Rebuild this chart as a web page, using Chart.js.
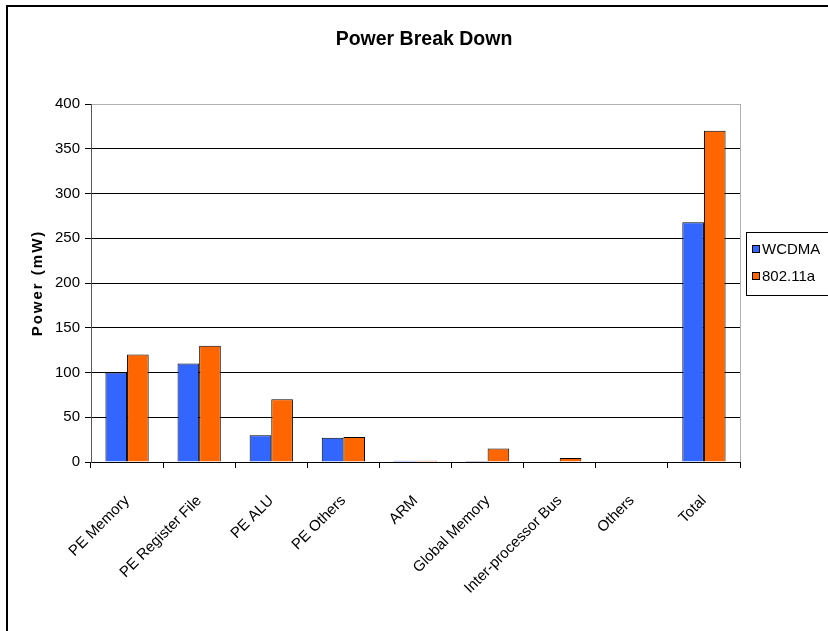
<!DOCTYPE html>
<html>
<head>
<meta charset="utf-8">
<script src="https://cdn.jsdelivr.net/npm/chart.js@4"></script>
<style>
  html, body { margin: 0; padding: 0; background: #fff; }
  #chart { display: block; }
</style>
</head>
<body>
<canvas id="chart" width="828" height="631"></canvas>
<script>
const ctx = document.querySelector("#chart");

const FONT = "'Liberation Sans', Arial, sans-serif";

const categories = ["PE Memory", "PE Register File", "PE ALU", "PE Others", "ARM",
    "Global Memory", "Inter-processor Bus", "Others", "Total"];
const wcdma = [100, 110, 30, 27, 1.5, 1, 0, 0, 268];
const wlan = [120, 130, 70, 28, 1.5, 15, 4.5, 0, 370];
const yTicks = [0, 50, 100, 150, 200, 250, 300, 350, 400];

// frame, title, axis title, plot border and legend
const decorations = {
    id: "decorations",
    afterDraw(chart) {
        const c = chart.ctx;
        const area = chart.chartArea;
        c.save();

        // outer frame (only top and left are visible)
        c.strokeStyle = "#000";
        c.lineWidth = 2;
        c.beginPath();
        c.moveTo(7, 640);
        c.lineTo(7, 6);
        c.lineTo(840, 6);
        c.stroke();

        // plot border, right side
        c.strokeStyle = "#b0b0b0";
        c.lineWidth = 1;
        c.beginPath();
        c.moveTo(area.right + 0.5, area.top);
        c.lineTo(area.right + 0.5, area.bottom);
        c.stroke();

        // title
        c.fillStyle = "#000";
        c.font = "bold 19.5px " + FONT;
        c.textAlign = "center";
        c.textBaseline = "middle";
        c.fillText("Power Break Down", 424, 40);

        // y axis title
        c.save();
        c.translate(38, (area.top + area.bottom) / 2);
        c.rotate(-Math.PI / 2);
        c.font = "bold 15px " + FONT;
        c.letterSpacing = "2px";
        c.fillText("Power (mW)", 0, 0);
        c.restore();

        // legend
        const lx = area.right + 6, ly = 232;
        c.strokeStyle = "#000";
        c.lineWidth = 1;
        c.strokeRect(lx + 0.5, ly + 0.5, 120, 63);
        c.font = "15px " + FONT;
        c.textAlign = "left";
        chart.data.datasets.forEach((ds, i) => {
            const y = ly + 17 + i * 27;
            c.fillStyle = ds.backgroundColor;
            c.fillRect(lx + 6, y - 4, 8, 8);
            c.strokeRect(lx + 6.5, y - 3.5, 7, 7);
            c.fillStyle = "#000";
            c.fillText(ds.label, lx + 16, y + 1);
        });
        c.restore();
    }
};

const data = {
    labels: categories,
    datasets: [
        {
            label: "WCDMA",
            data: wcdma,
            backgroundColor: "#3366ff",
            borderColor: "#000",
            borderWidth: 1,
        },
        {
            label: "802.11a",
            data: wlan,
            backgroundColor: "#ff6600",
            borderColor: "#000",
            borderWidth: 1,
        },
    ],
};

const config = {
    type: "bar",
    data: data,
    options: {
        responsive: false,
        animation: false,
        categoryPercentage: 0.6,
        barPercentage: 1.0,
        layout: {
            padding: { top: 104, right: 88, left: 0, bottom: 0 }
        },
        plugins: {
            legend: { display: false },
            title: { display: false },
            tooltip: { enabled: false },
        },
        scales: {
            x: {
                afterFit(scale) { scale.height = 169; },
                grid: {
                    drawOnChartArea: false,
                    drawTicks: true,
                    tickLength: 6,
                    color: "#000",
                },
                border: { color: "#000", width: 1 },
                ticks: {
                    color: "#000",
                    font: { family: FONT, size: 15 },
                    minRotation: 45,
                    maxRotation: 45,
                    autoSkip: false,
                    padding: 24,
                },
            },
            y: {
                min: 0,
                max: 400,
                afterFit(scale) { scale.width = 91; },
                afterBuildTicks(scale) {
                    scale.ticks = yTicks.map(v => ({ value: v }));
                },
                grid: {
                    color: c => c.tick && c.tick.value === 400 ? "#b0b0b0" : "#000",
                    tickColor: "#000",
                    tickLength: 6,
                },
                border: { color: "#555", width: 1 },
                ticks: {
                    color: "#000",
                    font: { family: FONT, size: 15 },
                    padding: 5,
                },
            },
        },
    },
    plugins: [decorations],
};

new Chart(ctx, config);
</script>
</body>
</html>
